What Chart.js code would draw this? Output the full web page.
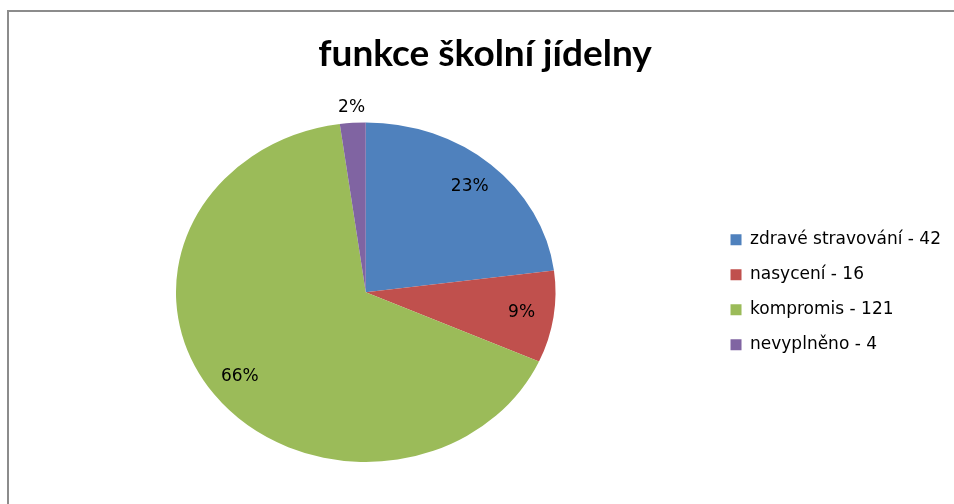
<!DOCTYPE html>
<html>
<head>
<meta charset="utf-8">
<script src="https://cdn.jsdelivr.net/npm/chart.js@4/dist/chart.umd.min.js"></script>
<style>
    html, body { margin: 0; padding: 0; background: #fff; }
    #wrap { position: relative; width: 954px; height: 504px; overflow: hidden; }
    #frame {
        position: absolute; left: 7px; top: 10px; width: 1000px; height: 600px;
        border-top: 2px solid #8c8c8c; border-left: 2px solid #8c8c8c;
    }
    canvas { position: absolute; left: 0; top: 0; }
</style>
</head>
<body>
<div id="wrap">
    <div id="frame"></div>
    <canvas id="chart" width="954" height="504"></canvas>
</div>
<script>
// Chart data
const title = 'funkce školní jídelny';
const categories = ['zdravé stravování', 'nasycení', 'kompromis', 'nevyplněno'];
const counts = [42, 16, 121, 4];
const colors = ['#4F81BD', '#C0504D', '#9BBB59', '#8064A2'];

const total = counts.reduce((a, b) => a + b, 0);
const xStretch = 190 / 170; // the original pie is a bit wider than tall

// stretch the pie horizontally and put the percent labels on it
const pieLabels = {
    id: 'pieLabels',
    beforeDatasetsDraw(chart) {
        const arc = chart.getDatasetMeta(0).data[0];
        const ctx = chart.ctx;
        ctx.save();
        ctx.translate(arc.x, arc.y);
        ctx.scale(xStretch, 1);
        ctx.translate(-arc.x, -arc.y);
    },
    afterDatasetsDraw(chart) {
        const ctx = chart.ctx;
        ctx.restore();
        ctx.save();
        ctx.font = '17px "DejaVu Sans"';
        ctx.fillStyle = '#000';
        ctx.textAlign = 'center';
        ctx.textBaseline = 'middle';
        chart.getDatasetMeta(0).data.forEach((arc, i) => {
            const share = counts[i] / total;
            const mid = (arc.startAngle + arc.endAngle) / 2;
            const r = arc.outerRadius * (share < 0.05 ? 1.09 : 0.83);
            const x = arc.x + Math.cos(mid) * r * xStretch;
            const y = arc.y + Math.sin(mid) * r;
            ctx.fillText(Math.round(share * 100) + '%', x, y);
        });
        ctx.restore();
    }
};

const ctx = document.getElementById('chart').getContext('2d');
new Chart(ctx, {
    type: 'pie',
    data: {
        labels: categories.map((c, i) => c + ' - ' + counts[i]),
        datasets: [{
            data: counts,
            backgroundColor: colors,
            borderWidth: 0
        }]
    },
    options: {
        responsive: false,
        animation: false,
        layout: { padding: { left: 19, right: 3, top: 0, bottom: 42 } },
        plugins: {
            title: {
                display: true,
                text: title,
                color: '#000',
                font: { family: 'Lato', size: 37, weight: 'bold', lineHeight: 1.2 },
                padding: { top: 32, bottom: 46 }
            },
            legend: {
                position: 'right',
                fullSize: false,
                labels: {
                    boxWidth: 11,
                    boxHeight: 11,
                    padding: 18,
                    color: '#000',
                    font: { family: 'DejaVu Sans', size: 17 }
                }
            },
            tooltip: { enabled: false }
        }
    },
    plugins: [pieLabels]
});
</script>
</body>
</html>
